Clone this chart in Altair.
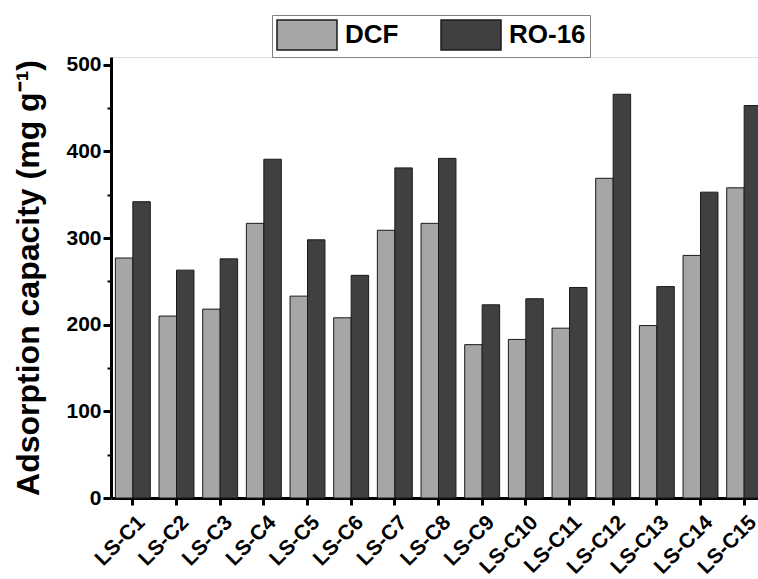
import altair as alt
import pandas as pd

# Adsorbent samples and adsorption capacities (mg/g) for the two dyes
samples = ["LS-C1", "LS-C2", "LS-C3", "LS-C4", "LS-C5", "LS-C6", "LS-C7", "LS-C8",
           "LS-C9", "LS-C10", "LS-C11", "LS-C12", "LS-C13", "LS-C14", "LS-C15"]
dcf = [277, 210, 218, 317, 233, 208, 309, 317, 177, 183, 196, 369, 199, 280, 358]
ro16 = [342, 263, 276, 391, 298, 257, 381, 392, 223, 230, 243, 466, 244, 353, 453]
series = ["DCF", "RO-16"]
series_colors = ["#a6a6a6", "#404040"]
y_ticks = [0, 50, 100, 150, 200, 250, 300, 350, 400, 450, 500]

rows = []
for s, a, b in zip(samples, dcf, ro16):
    rows.append({"sample": s, "dye": series[0], "capacity": a})
    rows.append({"sample": s, "dye": series[1], "capacity": b})
df = pd.DataFrame(rows)

FONT = "Liberation Sans"

# wide rectangular legend swatch (30 px tall, 60 px wide, starting at the entry's left edge)
swatch = "M-1,-1H3V1H-1Z"

chart = alt.Chart(df).mark_bar(stroke="#1a1a1a", strokeWidth=1).encode(
    x=alt.X(
        "sample:N", sort=samples,
        scale=alt.Scale(paddingInner=0.2, paddingOuter=0.1),
        axis=alt.Axis(
            title=None, labelAngle=-45, labelAlign="right", labelBaseline="middle",
            labelFont=FONT, labelFontWeight="bold", labelFontSize=21, labelColor="black",
            labelPadding=14, labelOffset=9,
            tickSize=7, tickWidth=3, tickColor="black",
            domainColor="black", domainWidth=3,
        ),
    ),
    xOffset=alt.XOffset("dye:N", sort=series, scale=alt.Scale(paddingInner=0, paddingOuter=0)),
    y=alt.Y(
        "capacity:Q",
        scale=alt.Scale(domain=[0, 509], nice=False),
        axis=alt.Axis(
            title="Adsorption capacity (mg g⁻¹)",
            titleFont=FONT, titleFontWeight="bold", titleFontSize=32, titleColor="black",
            titlePadding=20,
            values=y_ticks,
            labelExpr="datum.value % 100 === 0 ? datum.label : ''",
            labelFont=FONT, labelFontWeight="bold", labelFontSize=21, labelColor="black",
            labelPadding=2,
            tickSize={"condition": {"test": "datum.value % 100 === 0", "value": 8}, "value": 4},
            tickWidth={"condition": {"test": "datum.value % 100 === 0", "value": 3}, "value": 2},
            tickColor="black", domainColor="black", domainWidth=3, grid=False,
        ),
    ),
    color=alt.Color(
        "dye:N", sort=series,
        scale=alt.Scale(domain=series, range=series_colors),
        legend=alt.Legend(
            title=None, orient="none", direction="horizontal",
            legendX=161, legendY=-42,
            symbolType=swatch, symbolSize=900,
            symbolStrokeColor="#1a1a1a", symbolStrokeWidth=1.5, symbolOpacity=1,
            labelFont=FONT, labelFontWeight="bold", labelFontSize=26, labelColor="black",
            labelOffset=37, columnPadding=39,
            strokeColor="#808080", padding=4,
        ),
    ),
).properties(
    width=655, height=441,
    autosize=alt.AutoSizeParams(type="none"),
    # the right end of the frame runs past the page edge
    padding={"left": 111, "top": 57, "right": -8, "bottom": 81},
).configure_view(
    stroke="black", strokeWidth=3,
).configure(background="white")

chart.save("out.html", embed_options={"renderer": "svg", "actions": False})
